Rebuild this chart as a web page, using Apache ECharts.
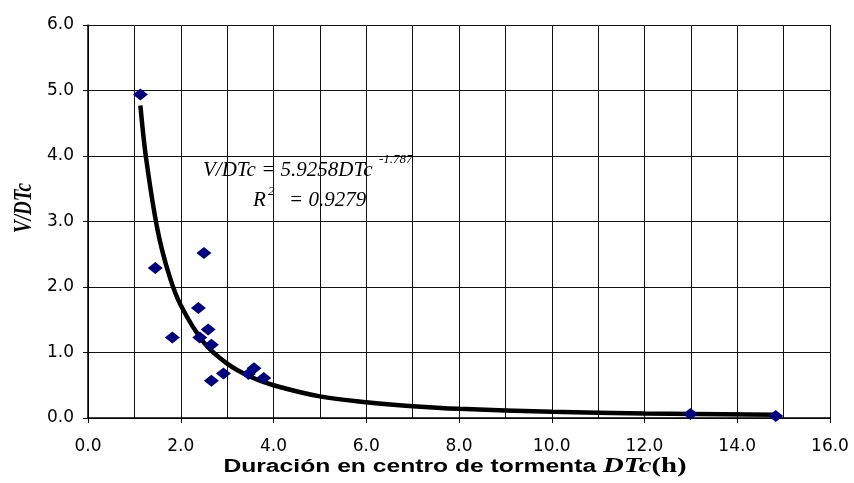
<!DOCTYPE html>
<html>
<head>
<meta charset="utf-8">
<script src="https://cdn.jsdelivr.net/npm/echarts@6/dist/echarts.min.js"></script>
<style>html,body{margin:0;padding:0;background:#fff}#c{width:854px;height:483px}</style>
</head>
<body>
<div id="c"></div>
<script>
// Observed data: storm-centre duration DTc (h) vs V/DTc
var durationDTc = [1.13, 1.45, 1.82, 2.38, 2.41, 2.50, 2.59, 2.66, 2.66, 2.92, 3.46, 3.58, 3.79, 12.99, 14.83];
var ratioVDTc   = [4.94, 2.29, 1.23, 1.68, 1.23, 2.52, 1.35, 1.12, 0.57, 0.68, 0.67, 0.76, 0.61, 0.06, 0.03];

// Power trend line
var trendX = [1.13, 1.25, 1.5, 1.75, 2.0, 2.5, 3.0, 3.5, 4.0, 5.0, 6.0, 7.0, 8.0, 10.0, 12.0, 14.83];
var trendY = [4.77, 3.98, 2.87, 2.18, 1.72, 1.15, 0.83, 0.63, 0.50, 0.33, 0.24, 0.18, 0.14, 0.097, 0.070, 0.048];

var xTitle = 'Duración en centro de tormenta ';
var xTitleVar = 'DTc';
var xTitleUnit = '(h)';
var yTitle = 'V/DTc';
var eqLine = 'V/DTc = 5.9258DTc';
var eqExp = '-1.787';
var r2Label = 'R';
var r2Exp = '2';
var r2Value = '= 0.9279';

var chart = echarts.init(document.getElementById('c'));
var pts = durationDTc.map(function (x, i) { return [x, ratioVDTc[i]]; });
var tr = trendX.map(function (x, i) { return [x, trendY[i]]; });
var labelFont = {color: '#000', fontFamily: 'DejaVu Sans', fontSize: 17};

chart.setOption({
  animation: false,
  backgroundColor: '#fff',
  grid: {left: 88, right: 24, top: 25, bottom: 65},
  xAxis: {
    type: 'value', min: 0, max: 16, interval: 2,
    axisLine: {lineStyle: {color: '#000', width: 1.5}},
    axisTick: {show: true, inside: false, length: 5, lineStyle: {color: '#000'}},
    axisLabel: Object.assign({margin: 20, formatter: function (v) { return v.toFixed(1); }}, labelFont),
    splitLine: {show: true, lineStyle: {color: '#111', width: 1}},
    minorTick: {show: false, splitNumber: 2},
    minorSplitLine: {show: true, lineStyle: {color: '#111', width: 1}}
  },
  yAxis: {
    type: 'value', min: 0, max: 6, interval: 1,
    axisLine: {show: true, lineStyle: {color: '#000', width: 1.5}},
    axisTick: {show: true, inside: false, length: 5, lineStyle: {color: '#000'}},
    axisLabel: Object.assign({margin: 14, formatter: function (v) { return v.toFixed(1); }}, labelFont),
    splitLine: {show: true, lineStyle: {color: '#111', width: 1}}
  },
  series: [
    {
      type: 'line', data: tr, smooth: 0.35, showSymbol: false, symbol: 'none',
      lineStyle: {color: '#000', width: 4.5}, z: 3
    },
    {
      type: 'scatter', data: pts, symbol: 'diamond', symbolSize: [15, 12],
      itemStyle: {color: '#000080', opacity: 1}, z: 4
    }
  ],
  graphic: [
    {type: 'text', x: 203, y: 170, z: 10, style: {text: eqLine, fill: '#000', font: 'italic 21px "Liberation Serif"', verticalAlign: 'middle', align: 'left'}},
    {type: 'text', x: 379, y: 160, z: 10, style: {text: eqExp, fill: '#000', font: 'italic 13px "Liberation Serif"', verticalAlign: 'middle', align: 'left'}},
    {type: 'text', x: 253, y: 200, z: 10, style: {text: r2Label, fill: '#000', font: 'italic 21px "Liberation Serif"', verticalAlign: 'middle', align: 'left'}},
    {type: 'text', x: 268, y: 192, z: 10, style: {text: r2Exp, fill: '#000', font: 'italic 13px "Liberation Serif"', verticalAlign: 'middle', align: 'left'}},
    {type: 'text', x: 289, y: 200, z: 10, style: {text: r2Value, fill: '#000', font: 'italic 21px "Liberation Serif"', verticalAlign: 'middle', align: 'left'}},
    {type: 'text', x: 455, y: 467, scaleX: 1.37, z: 10, style: {
      text: '{a|' + xTitle + '}{b|' + xTitleVar + '}{c|' + xTitleUnit + '}',
      align: 'center', verticalAlign: 'middle',
      rich: {
        a: {fontFamily: 'Liberation Sans', fontWeight: 'bold', fontSize: 18, fill: '#000'},
        b: {fontFamily: 'Liberation Serif', fontWeight: 'bold', fontStyle: 'italic', fontSize: 21, fill: '#000'},
        c: {fontFamily: 'Liberation Serif', fontWeight: 'bold', fontSize: 21, fill: '#000'}
      }
    }},
    {type: 'text', x: 24, y: 208, rotation: Math.PI / 2, scaleY: 1.37, z: 10, style: {
      text: yTitle, fill: '#000', font: 'italic bold 19px "Liberation Serif"', align: 'center', verticalAlign: 'middle'
    }}
  ]
});
</script>
</body>
</html>
